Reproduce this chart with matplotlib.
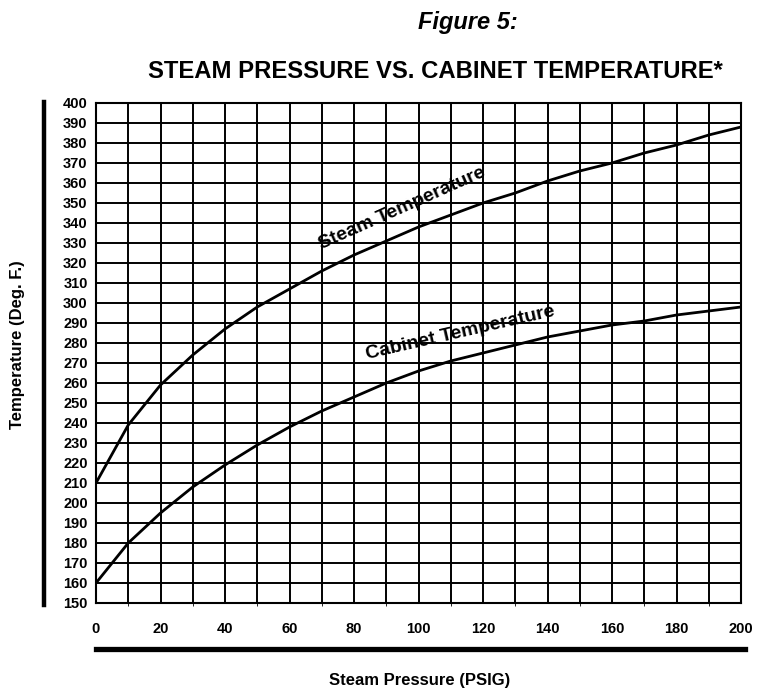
import numpy as np
import matplotlib.pyplot as plt
from matplotlib.lines import Line2D

plt.rcParams['font.family'] = ['Liberation Sans', 'DejaVu Sans']

# values (PSIG -> deg F)
pressure = [0, 10, 20, 30, 40, 50, 60, 70, 80, 90, 100,
            110, 120, 130, 140, 150, 160, 170, 180, 190, 200]
steam_temp = [210, 239, 259, 274, 287, 298, 307, 316, 324, 331, 338,
              344, 350, 355, 361, 366, 370, 375, 379, 384, 388]
cabinet_temp = [160, 180, 195, 208, 219, 229, 238, 246, 253, 260, 266,
                271, 275, 279, 283, 286, 289, 291, 294, 296, 298]

x_ticks = list(range(0, 201, 20))
y_ticks = list(range(150, 401, 10))

fig = plt.figure(figsize=(7.6, 6.89), dpi=100)
ax = fig.add_axes([96 / 760, 1 - 603 / 689, 645 / 760, 500 / 689])

ax.plot(pressure, steam_temp, color='black', lw=2.0, zorder=3)
ax.plot(pressure, cabinet_temp, color='black', lw=2.0, zorder=3)

ax.set_xlim(0, 200)
ax.set_ylim(150, 400)
ax.set_xticks(range(0, 201, 10), minor=True)
ax.set_xticks(x_ticks)
ax.set_yticks(y_ticks)
ax.grid(True, which='both', color='black', lw=1.4)
ax.tick_params(length=0, labelsize=10.5, width=0)
ax.tick_params(axis='x', pad=14)
ax.tick_params(axis='y', pad=6)
for lab in ax.get_xticklabels() + ax.get_yticklabels():
    lab.set_fontweight('bold')
for sp in ax.spines.values():
    sp.set_linewidth(1.5)

ax.text(95, 347, 'Steam Temperature', rotation=24, ha='center', va='center',
        fontsize=14, fontweight='bold', zorder=4)
ax.text(113, 285, 'Cabinet Temperature', rotation=13, ha='center', va='center',
        fontsize=14, fontweight='bold', zorder=4)

fig.text(418 / 760, 1 - 23 / 689, 'Figure 5:', ha='left', va='center',
         fontsize=17, fontweight='bold', style='italic')
fig.text(435 / 760, 1 - 72 / 689, 'STEAM PRESSURE VS. CABINET TEMPERATURE*',
         ha='center', va='center', fontsize=17.2, fontweight='bold')

fig.text(18 / 760, 1 - 345 / 689, 'Temperature (Deg. F.)', rotation=90,
         ha='center', va='center', fontsize=12, fontweight='bold')
fig.text(420 / 760, 1 - 680 / 689, 'Steam Pressure (PSIG)', ha='center',
         va='center', fontsize=12, fontweight='bold')

# thick rules beside the axis titles
fig.add_artist(Line2D([44 / 760, 44 / 760], [1 - 102 / 689, 1 - 605 / 689],
                      color='black', lw=3.2, transform=fig.transFigure))
fig.add_artist(Line2D([96 / 760, 745 / 760], [1 - 649 / 689, 1 - 649 / 689],
                      color='black', lw=3.8, transform=fig.transFigure))

fig.savefig('out.png', dpi=100)
